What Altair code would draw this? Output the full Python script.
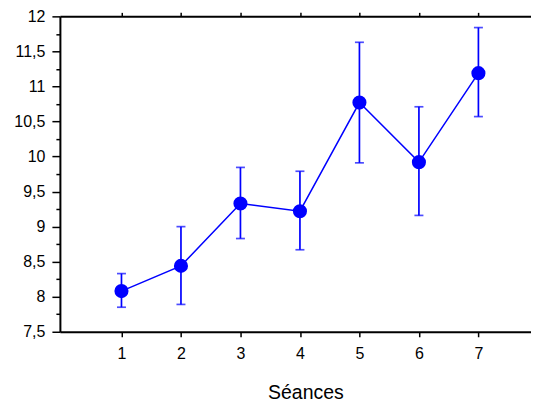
import altair as alt
import pandas as pd

seances = [1, 2, 3, 4, 5, 6, 7]
means = [8.08, 8.44, 9.33, 9.22, 10.77, 9.92, 11.19]
upper = [8.33, 9.00, 9.845, 9.79, 11.63, 10.71, 11.84]
lower = [7.85, 7.89, 8.83, 8.67, 9.91, 9.16, 10.57]

df = pd.DataFrame({"s": seances, "m": means, "hi": upper, "lo": lower})

BLUE = "#0000ff"
FONT = "Liberation Sans"
xscale = alt.Scale(domain=[-0.035, 7.884], nice=False, zero=False)
yscale = alt.Scale(domain=[7.5, 12], nice=False, zero=False)

yvals = [7.5 + 0.25 * i for i in range(19)]

x_bottom = alt.Axis(values=seances, orient="bottom", title="Séances", grid=False,
                    tickSize=5, labelPadding=9, labelFontSize=16, labelFont=FONT,
                    titleFontSize=19.5, titleFont=FONT, titleFontWeight="normal",
                    titleBaseline="alphabetic", titleX=246, titleY=67, titleAnchor="middle")
x_top = alt.Axis(values=seances, orient="top", title=None, labels=False, grid=False,
                 tickSize=4)
y_left = alt.Axis(values=yvals, orient="left", title=None, grid=False,
                  tickSize={"condition": {"test": "datum.value % 0.5 === 0", "value": 8}, "value": 4},
                  labelExpr="datum.value % 0.5 === 0 ? replace(format(datum.value, '~g'), '.', ',') : ''",
                  labelPadding=7, labelFontSize=16, labelFont=FONT)

base = alt.Chart(df)

rules = base.mark_rule(color=BLUE, strokeWidth=1.7).encode(
    x=alt.X("s:Q", scale=xscale, axis=x_bottom),
    y=alt.Y("lo:Q", scale=yscale, axis=y_left),
    y2="hi:Q",
)
cap_hi = base.mark_tick(color=BLUE, orient="horizontal", size=9, thickness=1.7).encode(
    x=alt.X("s:Q", scale=xscale, axis=None),
    y=alt.Y("hi:Q", scale=yscale, axis=None),
)
cap_lo = base.mark_tick(color=BLUE, orient="horizontal", size=9, thickness=1.7).encode(
    x=alt.X("s:Q", scale=xscale, axis=None),
    y=alt.Y("lo:Q", scale=yscale, axis=None),
)
line = base.mark_line(color=BLUE, strokeWidth=1.5).encode(
    x=alt.X("s:Q", scale=xscale, axis=None),
    y=alt.Y("m:Q", scale=yscale, axis=None),
)
pts = base.mark_circle(color=BLUE, size=200, opacity=1).encode(
    x=alt.X("s:Q", scale=xscale, axis=None),
    y=alt.Y("m:Q", scale=yscale, axis=None),
)
topax = base.mark_point(opacity=0).encode(
    x=alt.X("s:Q", scale=xscale, axis=x_top),
    y=alt.Y("m:Q", scale=yscale, axis=None),
)

chart = alt.layer(rules, cap_hi, cap_lo, line, pts, topax).resolve_axis(
    x="independent", y="independent"
).properties(
    width=472, height=316,
    autosize=alt.AutoSizeParams(type="none"),
    padding={"left": 52, "top": 8, "right": 0, "bottom": 72},
).configure_view(stroke=None).configure_axis(
    domainColor="black", domainWidth=2, tickColor="black", tickWidth=1.5,
    labelColor="black", titleColor="black",
)

chart.save("out.html", embed_options={"renderer": "svg", "actions": False})
